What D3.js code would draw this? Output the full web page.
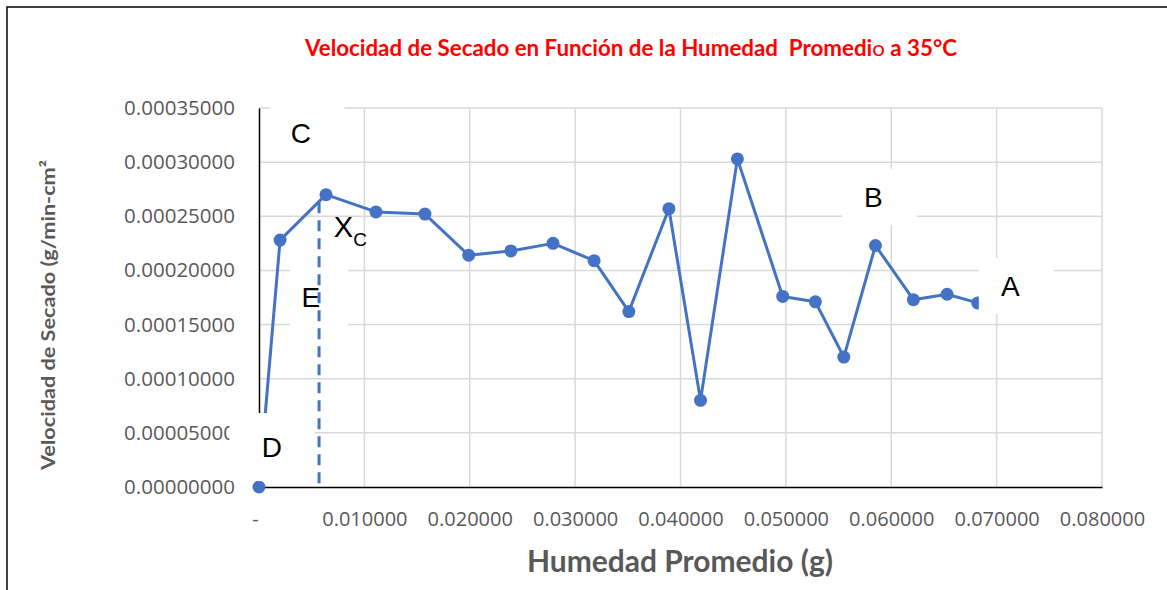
<!DOCTYPE html>
<html>
<head>
<meta charset="utf-8">
<script src="https://cdn.jsdelivr.net/npm/d3@7"></script>
<style>
  body { margin: 0; background: #fff; }
  svg { display: block; }
</style>
</head>
<body>
<svg></svg>
<script>
// Humedad promedio (g) vs velocidad de secado (g/min-cm2)
const humedad = [0, 0.0020, 0.00636, 0.0111, 0.01575, 0.0199, 0.0239, 0.0279, 0.0318, 0.0351,
  0.0389, 0.0419, 0.0454, 0.0497, 0.0528, 0.0555, 0.0585, 0.0621, 0.0653, 0.0682];
const velocidad = [0, 0.000228, 0.000270, 0.000254, 0.000252, 0.000214, 0.000218, 0.000225, 0.000209, 0.000162,
  0.000257, 0.000080, 0.000303, 0.000176, 0.000171, 0.000120, 0.000223, 0.000173, 0.000178, 0.000170];

const xTicks = [0, 0.01, 0.02, 0.03, 0.04, 0.05, 0.06, 0.07, 0.08];
const yTicks = [0, 0.00005, 0.0001, 0.00015, 0.0002, 0.00025, 0.0003, 0.00035];

// critical moisture Xc (dashed line)
const xc = 0.0057;
const xcTop = 0.000263;

// region letters, placed in data space
const letters = ["C", "B", "A", "D", "E"];
const letterX = [0.00398, 0.0583, 0.0713, 0.00123, 0.00493];
const letterY = [0.000327, 0.000268, 0.0001856, 0.0000369, 0.0001755];

const title = "Velocidad de Secado en Función de la Humedad  Promedi";
const xTitle = "Humedad Promedio (g)";
const yTitle = "Velocidad de Secado (g/min-cm²";

const width = 1167, height = 590;
const margin = {left: 259, right: 65, top: 108, bottom: 103};

const svg = d3.select("svg")
  .attr("width", width)
  .attr("height", height);

const x = d3.scaleLinear().domain([0, 0.08]).range([margin.left, width - margin.right]);
const y = d3.scaleLinear().domain([0, 0.00035]).range([height - margin.bottom, margin.top]);

const grey = "#595959";
const blue = "#4472C4";

// outer frame (only top and left visible)
svg.append("path")
  .attr("d", `M7,${height} V7 H${width}`)
  .attr("fill", "none")
  .attr("stroke", "#000")
  .attr("stroke-width", 1.5);

// gridlines
const grid = svg.append("g").attr("stroke", "#d9d9d9").attr("stroke-width", 1.5);
grid.selectAll(".hg")
  .data(yTicks.slice(1))
  .join("line")
  .attr("x1", x(0)).attr("x2", x(0.08))
  .attr("y1", d => y(d)).attr("y2", d => y(d));
grid.selectAll(".vg")
  .data(xTicks.slice(1))
  .join("line")
  .attr("class", "vg")
  .attr("x1", d => x(d)).attr("x2", d => x(d))
  .attr("y1", y(0)).attr("y2", y(0.00035));

// axes
const yAxis = svg.append("g")
  .attr("transform", `translate(${x(0)},0)`)
  .call(d3.axisLeft(y).tickValues(yTicks).tickFormat(d3.format(".8f")).tickSize(0).tickPadding(24));
const xAxis = svg.append("g")
  .attr("transform", `translate(0,${y(0)})`)
  .call(d3.axisBottom(x).tickValues(xTicks).tickFormat(d => d === 0 ? "-" : d3.format(".6f")(d)).tickSize(0).tickPadding(25));

[xAxis, yAxis].forEach(a => {
  a.select(".domain").attr("stroke", "#000").attr("stroke-width", 1.5);
  a.selectAll("text")
    .attr("fill", grey)
    .style("font-family", "'Open Sans', sans-serif");
});
yAxis.selectAll("text").style("font-size", "20.5px");
xAxis.selectAll("text").style("font-size", "20px");
xAxis.select(".tick text").attr("dx", -4);

// series
const pts = humedad.map((h, i) => [h, velocidad[i]]);
svg.append("path")
  .datum(pts)
  .attr("fill", "none")
  .attr("stroke", blue)
  .attr("stroke-width", 3)
  .attr("stroke-linejoin", "round")
  .attr("d", d3.line().x(d => x(d[0])).y(d => y(d[1])));

svg.selectAll(".pt")
  .data(pts)
  .join("circle")
  .attr("class", "pt")
  .attr("cx", d => x(d[0]))
  .attr("cy", d => y(d[1]))
  .attr("r", 6.5)
  .attr("fill", blue);

// white text boxes behind the letters (they hide grid and line)
const boxW = [75, 75, 75, 85, 58];
const boxH = [56, 56, 56, 68, 62];
const boxDx = [6, 6, 6, 0, 8];
const ann = svg.append("g");
letters.forEach((t, i) => {
  const cx = x(letterX[i]), cy = y(letterY[i]);
  ann.append("rect")
    .attr("x", cx + boxDx[i] - boxW[i] / 2)
    .attr("y", cy - boxH[i] / 2)
    .attr("width", boxW[i])
    .attr("height", boxH[i])
    .attr("fill", "#fff");
  ann.append("text")
    .attr("x", cx)
    .attr("y", cy)
    .attr("dy", "0.36em")
    .attr("text-anchor", "middle")
    .style("font-family", "'Liberation Sans', Arial, sans-serif")
    .style("font-size", "28px")
    .text(t);
});

// Xc label
const xcLabel = svg.append("text")
  .attr("x", x(0.0071))
  .attr("y", y(0.000231))
  .style("font-family", "'Liberation Sans', Arial, sans-serif")
  .style("font-size", "29px");
xcLabel.append("tspan").text("X");
xcLabel.append("tspan").attr("dy", 9).style("font-size", "19px").text("C");

// dashed vertical at Xc
svg.append("line")
  .attr("x1", x(xc)).attr("x2", x(xc))
  .attr("y1", y(xcTop)).attr("y2", y(0))
  .attr("stroke", blue)
  .attr("stroke-width", 3)
  .attr("stroke-dasharray", "11,7");

// titles
const t = svg.append("text")
  .attr("x", 631)
  .attr("y", 56)
  .attr("text-anchor", "middle")
  .attr("textLength", 652)
  .attr("lengthAdjust", "spacingAndGlyphs")
  .attr("fill", "#ff0000")
  .style("white-space", "pre")
  .style("font-family", "Lato, sans-serif")
  .style("font-size", "22px")
  .style("font-weight", "bold");
t.append("tspan").text(title);
t.append("tspan").style("font-weight", "normal").text("o");
t.append("tspan").text(" a 35°C");

svg.append("text")
  .attr("x", 680)
  .attr("y", 572)
  .attr("text-anchor", "middle")
  .attr("textLength", 306)
  .attr("lengthAdjust", "spacingAndGlyphs")
  .attr("fill", grey)
  .style("font-family", "Lato, sans-serif")
  .style("font-size", "30px")
  .style("font-weight", "bold")
  .text(xTitle);

svg.append("text")
  .attr("transform", `translate(55,315) rotate(-90)`)
  .attr("text-anchor", "middle")
  .attr("textLength", 310)
  .attr("lengthAdjust", "spacingAndGlyphs")
  .attr("fill", grey)
  .style("font-family", "Lato, sans-serif")
  .style("font-size", "19px")
  .style("font-weight", "bold")
  .text(yTitle);
</script>
</body>
</html>
